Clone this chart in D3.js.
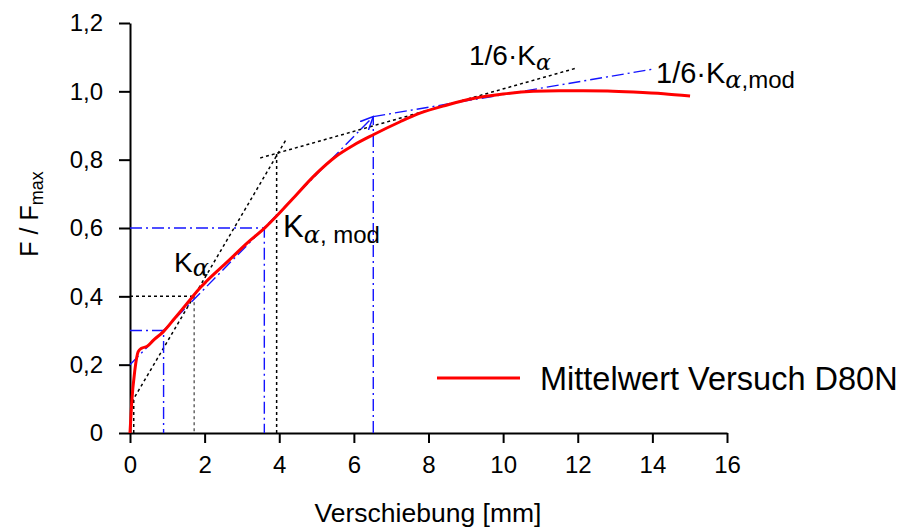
<!DOCTYPE html>
<html>
<head>
<meta charset="utf-8">
<script src="https://cdn.jsdelivr.net/npm/d3@7"></script>
<style>
  html, body { margin: 0; padding: 0; background: #fff; }
  svg { display: block; }
  text { font-family: "Liberation Sans", Arial, sans-serif; fill: #000; }
  .greek { font-family: "DejaVu Serif", serif; font-style: italic; }
</style>
</head>
<body>
<svg id="chart" width="905" height="530"></svg>
<script>
// Mean load-displacement curve of test D80N (force normalised to F_max)
const displacement = [0, 0.02, 0.045, 0.13, 0.22, 0.31, 0.45, 0.63, 0.89, 1.2, 1.55, 1.88,
  2.05, 2.6, 3.13, 3.62, 4.0, 4.33, 5.0, 5.5, 6.0, 6.52, 7.24, 7.77, 8.5, 9.2, 10.0, 10.81,
  11.5, 12.15, 12.8, 13.49, 14.3, 15.01];
const forceRatio = [0, 0.04, 0.087, 0.184, 0.238, 0.248, 0.253, 0.272, 0.296, 0.336, 0.382, 0.425,
  0.444, 0.50, 0.555, 0.601, 0.643, 0.682, 0.76, 0.808, 0.843, 0.873, 0.911, 0.936, 0.96, 0.979, 0.992, 1.0,
  1.002, 1.002, 1.001, 0.998, 0.993, 0.986];

// Axis ticks
const xTicks = [0, 2, 4, 6, 8, 10, 12, 14, 16];
const yTicks = [0, 0.2, 0.4, 0.6, 0.8, 1.0, 1.2];
const yTickLabels = ["0", "0,2", "0,4", "0,6", "0,8", "1,0", "1,2"];

// Stiffness construction K_alpha (secant through 10 % and 40 % of F_max)
const kAlphaSecant = [[0.05, 0.091], [4.2, 0.862]];
const kAlphaSixth = [[3.49, 0.805], [11.93, 1.067]];
const kAlphaRef10 = [[0.1, 0], [0.1, 0.1]];
const kAlphaRef40 = [[0, 0.4], [1.72, 0.4]];
const kAlphaDrop40 = [[1.72, 0.4], [1.72, 0]];
const kAlphaCross = [[3.93, 0], [3.93, 0.818]];

// Modified stiffness K_alpha,mod (secant through 30 % and 60 % of F_max)
const kModSecant = [[0, 0.2], [6.52, 0.926]];
const kModSixth = [[6.52, 0.926], [14.07, 1.066]];
const kModRef30 = [[0, 0.3], [0.9, 0.3], [0.9, 0]];
const kModRef60 = [[0, 0.6], [3.6, 0.6], [3.6, 0]];
const kModCross = [[6.52, 0], [6.52, 0.926]];

const svg = d3.select("#chart");
const x = d3.scaleLinear().domain([0, 16]).range([130, 727]);
const y = d3.scaleLinear().domain([0, 1.2]).range([433, 23]);

const line = d3.line().x(d => x(d[0])).y(d => y(d[1]));

svg.append("defs").append("marker")
  .attr("id", "openArrow")
  .attr("viewBox", "0 0 14 14")
  .attr("refX", 13).attr("refY", 7)
  .attr("markerWidth", 14).attr("markerHeight", 14)
  .attr("markerUnits", "userSpaceOnUse")
  .attr("orient", "auto")
  .append("path")
  .attr("d", "M0,1 L13,7 L0,13")
  .attr("fill", "none")
  .attr("stroke", "#1414ff")
  .attr("stroke-width", 1.5);

// Axes
const xAxis = d3.axisBottom(x).tickValues(xTicks).tickSize(10).tickSizeOuter(0).tickPadding(13)
  .tickFormat(d3.format("d"));
const yAxis = d3.axisLeft(y).tickValues(yTicks).tickSize(11).tickSizeOuter(0).tickPadding(16)
  .tickFormat((d, i) => yTickLabels[i]);

const gx = svg.append("g").attr("transform", "translate(0,433)").call(xAxis);
const gy = svg.append("g").attr("transform", "translate(130,0)").call(yAxis);
[gx, gy].forEach(g => {
  g.select(".domain").attr("stroke", "#000").attr("stroke-width", 2);
  g.selectAll(".tick line").attr("stroke", "#000").attr("stroke-width", 2);
  g.selectAll(".tick text").attr("font-size", 24).attr("fill", "#000")
    .attr("font-family", "'Liberation Sans', Arial, sans-serif");
});

// Construction lines
const dotted = (pts, color) => svg.append("path").attr("d", line(pts))
  .attr("fill", "none").attr("stroke", color || "#000").attr("stroke-width", 1.5)
  .attr("stroke-dasharray", "3,3");
const dashDot = (pts) => svg.append("path").attr("d", line(pts))
  .attr("fill", "none").attr("stroke", "#1414ff").attr("stroke-width", 1.4)
  .attr("stroke-dasharray", "12,4,2,4");

dotted(kAlphaSecant);
dotted(kAlphaSixth);
dotted(kAlphaRef10);
dotted(kAlphaRef40);
dotted(kAlphaDrop40, "#666");
dotted(kAlphaCross);

dashDot(kModRef30);
dashDot(kModRef60);
dashDot(kModCross);
dashDot(kModSecant).attr("marker-end", "url(#openArrow)");
dashDot(kModSixth);

// Measured curve
svg.append("path")
  .datum(displacement.map((d, i) => [d, forceRatio[i]]))
  .attr("d", line.curve(d3.curveMonotoneX))
  .attr("fill", "none")
  .attr("stroke", "#ff0000")
  .attr("stroke-width", 3)
  .attr("stroke-linejoin", "round");

// Labels with subscripts
function label(px, py, size, main, sub, subSize, subDy, subRest) {
  const t = svg.append("text").attr("x", px).attr("y", py).attr("font-size", size);
  t.append("tspan").text(main);
  t.append("tspan").attr("class", "greek").attr("font-size", subSize).attr("dy", subDy).text(sub);
  if (subRest) t.append("tspan").attr("font-size", subSize).text(subRest);
  return t;
}
label(174, 272, 28, "K", "α", 24, 4);
label(283, 237, 31, "K", "α", 24, 6, ", mod");
label(469, 65, 28, "1/6·K", "α", 22, 5);
label(656, 83, 29, "1/6·K", "α", 24, 5, ",mod");

// Axis titles
svg.append("text")
  .attr("x", 428).attr("y", 522)
  .attr("text-anchor", "middle").attr("font-size", 26.5)
  .text("Verschiebung [mm]");

const yt = svg.append("text")
  .attr("transform", "translate(38,214) rotate(-90)")
  .attr("text-anchor", "middle").attr("font-size", 25);
yt.append("tspan").text("F / F");
yt.append("tspan").attr("font-size", 18).attr("dy", 5).text("max");

// Legend
svg.append("line")
  .attr("x1", 437).attr("x2", 520).attr("y1", 378).attr("y2", 378)
  .attr("stroke", "#ff0000").attr("stroke-width", 3);
svg.append("text").attr("x", 540).attr("y", 390).attr("font-size", 32.5)
  .text("Mittelwert Versuch D80N");
</script>
</body>
</html>
